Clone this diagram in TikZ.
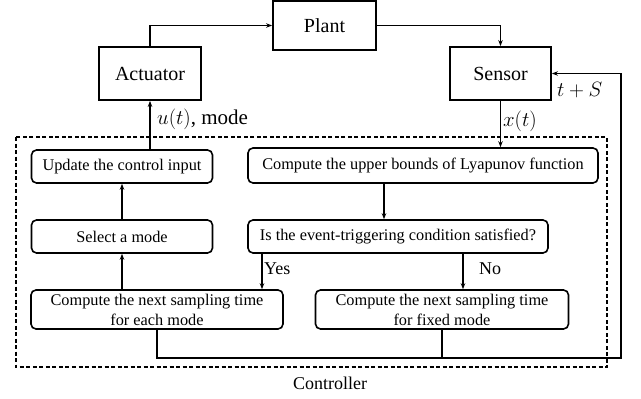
\documentclass[tikz,border=0pt]{standalone}
\usepackage{fontspec}
\setmainfont{Liberation Serif}
\usetikzlibrary{arrows.meta}

\begin{document}
\begin{tikzpicture}[
    x=1pt, y=-1pt,
    unit/.style={rectangle, draw, line width=1.8pt, inner sep=0pt, font=\rmfamily\fontsize{20}{24}\selectfont},
    task/.style={rectangle, rounded corners=5pt, draw, line width=1.6pt, inner sep=0pt, align=center, font=\rmfamily\fontsize{16.3}{20}\selectfont},
    link/.style={draw, line width=1.4pt},
    flow/.style={link, -{Stealth[length=6pt, width=4.5pt]}},
    lbl/.style={anchor=west, inner sep=0pt, font=\rmfamily\fontsize{21}{25}\selectfont},
    answer/.style={anchor=west, inner sep=0pt, font=\rmfamily\fontsize{18}{22}\selectfont}
]
  \useasboundingbox (0,0) rectangle (641,399);
  % plant loop
  \node[unit, minimum width=103pt, minimum height=49pt] (plant) at (324.5,25.5) {Plant};
  \node[unit, minimum width=102pt, minimum height=53pt] (actuator) at (150,73.5) {Actuator};
  \node[unit, minimum width=101pt, minimum height=53pt] (sensor) at (500.5,73.5) {Sensor};
  % controller
  \draw[line width=1.3pt, dash pattern=on 4pt off 2.5pt] (16,137) rectangle (607,367);
  \node[font=\rmfamily\fontsize{18}{22}\selectfont] (ctrl) at (330,383) {Controller};
  \node[task, minimum width=181pt, minimum height=33pt] (update) at (122,166.5) {Update the control input};
  \node[task, minimum width=350pt, minimum height=35pt] (lyap) at (423,165.5) {Compute the upper bounds of Lyapunov function};
  \node[task, minimum width=181pt, minimum height=33pt] (select) at (122,236.5) {Select a mode};
  \node[task, minimum width=300pt, minimum height=33pt] (event) at (398,236.5) {Is the event-triggering condition satisfied?};
  \node[task, minimum width=252pt, minimum height=39pt] (each) at (157,309.5) {Compute the next sampling time\\for each mode};
  \node[task, minimum width=253pt, minimum height=39pt] (fixed) at (442,309.5) {Compute the next sampling time\\for fixed mode};

  \coordinate (dn) at (384,0);
  \coordinate (yes) at (262,0);
  \coordinate (no) at (463,0);
  \coordinate (fb) at (621,358);

  \draw[flow] (actuator.north) |- (plant.west);
  \draw[flow] (plant.east) -| (sensor.north);
  \draw[flow] (sensor.south) -- (sensor.south |- lyap.north);
  \draw[flow] (update.north -| actuator.south) -- (actuator.south);
  \draw[flow] (select.north) -- (update.south);
  \draw[flow] (each.north -| select.south) -- (select.south);
  \draw[flow] (lyap.south -| dn) -- (event.north -| dn);
  \draw[flow] (event.south -| yes) -- (each.north -| yes);
  \draw[flow] (event.south -| no) -- (fixed.north -| no);
  \draw[flow] (each.south) |- (fb) -- (fb |- sensor.east) -- (sensor.east);
  \draw[link] (fixed.south) -- (fixed.south |- fb);

  \node[lbl] (ulbl) at (157,119) {$u(t)$, mode};
  \node[lbl] (xlbl) at (503,121) {$x(t)$};
  \node[lbl] (tlbl) at (557,90) {$t+S$};
  \node[answer] (ylbl) at (264,269) {Yes};
  \node[answer] (nlbl) at (479,269) {No};
\end{tikzpicture}
\end{document}
